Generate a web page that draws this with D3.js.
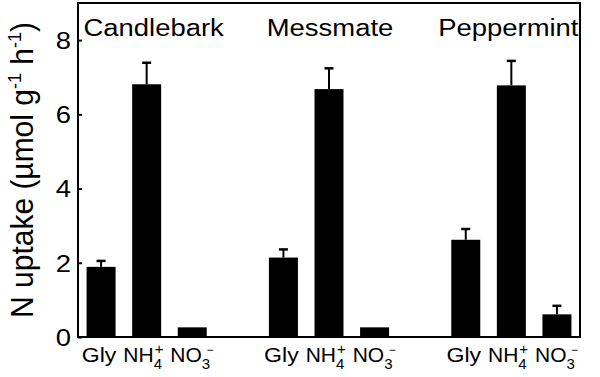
<!DOCTYPE html>
<html>
<head>
<meta charset="utf-8">
<script src="https://cdn.jsdelivr.net/npm/d3@7"></script>
<style>
  body { margin: 0; background: #fff; }
  svg text { font-family: "Liberation Sans", Arial, Helvetica, sans-serif; fill: #000; }
</style>
</head>
<body>
<svg id="chart" width="600" height="377"></svg>
<script>
// data
const species = ["Candlebark", "Messmate", "Peppermint"];
const nutrients = ["Gly", "NH4", "NO3"];
const candlebark = [1.89, 6.81, 0.26];
const messmate = [2.14, 6.68, 0.26];
const peppermint = [2.62, 6.78, 0.61];
const candlebarkErr = [0.16, 0.58, 0];
const messmateErr = [0.22, 0.56, 0];
const peppermintErr = [0.29, 0.66, 0.23];
const yTicks = [0, 2, 4, 6, 8];
// label pieces: base text, subscript, superscript
const nutrientBase = ["Gly", "NH", "NO"];
const nutrientSub = ["", "4", "3"];
const nutrientSup = ["", "+", "\u2212"];

const values = [candlebark, messmate, peppermint];
const errors = [candlebarkErr, messmateErr, peppermintErr];
const rows = [];
species.forEach((s, i) => {
  nutrients.forEach((n, j) => {
    rows.push({ species: s, nutrient: n, j: j, value: values[i][j], err: errors[i][j] });
  });
});

const mLeft = 78, mRight = 580, mTop = 3, mBottom = 337;
const sx = 1.12; // the figure's type is a bit wider than tall

const svg = d3.select("#chart");

const x0 = d3.scaleBand()
  .domain(species)
  .range([mLeft, mRight])
  .paddingInner(0.341)
  .paddingOuter(0.047);

const x1 = d3.scaleBand()
  .domain(nutrients)
  .range([0, x0.bandwidth()])
  .paddingInner(0.364);

const y = d3.scaleLinear()
  .domain([0, 9])
  .range([mBottom, mTop]);

// frame
svg.append("rect")
  .attr("x", mLeft).attr("y", mTop)
  .attr("width", mRight - mLeft).attr("height", mBottom - mTop)
  .attr("fill", "none").attr("stroke", "#000").attr("stroke-width", 2);

// y axis, ticks pointing inwards
const yAxis = svg.append("g")
  .attr("transform", "translate(" + mLeft + ",0)")
  .call(d3.axisRight(y).tickValues(yTicks).tickSize(4).tickFormat(""));
yAxis.select(".domain").remove();
yAxis.selectAll("line").attr("stroke", "#000").attr("stroke-width", 2);

svg.append("g").selectAll("text")
  .data(yTicks)
  .enter()
  .append("text")
  .attr("transform", d => "translate(71," + y(d) + ") scale(" + sx + ",1)")
  .attr("text-anchor", "end")
  .attr("dy", "0.36em")
  .style("font-size", "24.5px")
  .text(d => d);

// bars
svg.append("g").selectAll("rect")
  .data(rows)
  .enter()
  .append("rect")
  .attr("x", d => x0(d.species) + x1(d.nutrient))
  .attr("y", d => y(d.value))
  .attr("width", x1.bandwidth())
  .attr("height", d => y(0) - y(d.value))
  .attr("fill", "#000");

// error bars (upper only)
const errG = svg.append("g").selectAll("g")
  .data(rows.filter(d => d.err > 0))
  .enter()
  .append("g");
errG.append("line")
  .attr("x1", d => x0(d.species) + x1(d.nutrient) + x1.bandwidth() / 2)
  .attr("x2", d => x0(d.species) + x1(d.nutrient) + x1.bandwidth() / 2)
  .attr("y1", d => y(d.value))
  .attr("y2", d => y(d.value + d.err))
  .attr("stroke", "#000").attr("stroke-width", 2);
errG.append("line")
  .attr("x1", d => x0(d.species) + x1(d.nutrient) + x1.bandwidth() / 2 - 4.5)
  .attr("x2", d => x0(d.species) + x1(d.nutrient) + x1.bandwidth() / 2 + 4.5)
  .attr("y1", d => y(d.value + d.err))
  .attr("y2", d => y(d.value + d.err))
  .attr("stroke", "#000").attr("stroke-width", 2.5);

// species titles
svg.append("g").selectAll("text")
  .data(species)
  .enter()
  .append("text")
  .attr("transform", (d, i) => "translate(" + (x0(d) + x0.bandwidth() / 2 + [7, 1, -3][i]) + ",36) scale(" + sx + ",1)")
  .attr("text-anchor", "middle")
  .style("font-size", "24.5px")
  .text(d => d);

// nutrient labels under each bar
rows.forEach(d => {
  const cx = x0(d.species) + x1(d.nutrient) + x1.bandwidth() / 2;
  const lsx = d.j === 0 ? 1.1 : 1.0;
  const t = svg.append("text")
    .style("font-size", "21px");
  t.append("tspan").text(nutrientBase[d.j]);
  let extra = 0;
  if (nutrientSub[d.j]) {
    const sub = t.append("tspan")
      .attr("dy", 7)
      .style("font-size", "15px")
      .text(nutrientSub[d.j]);
    const w = sub.node().getComputedTextLength();
    t.append("tspan")
      .attr("dx", d.j === 2 ? -w * 0.45 : -w + 1)
      .attr("dy", -15)
      .style("font-size", d.j === 2 ? "12px" : "15px")
      .text(nutrientSup[d.j]);
    extra = w;
  }
  const baseW = t.select("tspan").node().getComputedTextLength();
  const total = (baseW + extra) * lsx;
  const shift = d.j === 1 ? -4 : -2;
  t.attr("transform", "translate(" + (cx - total / 2 + shift) + ",362) scale(" + lsx + ",1)");
});

// y axis title
const yl = svg.append("text")
  .attr("transform", "translate(33,170) scale(1.07,1) rotate(-90)")
  .attr("text-anchor", "middle")
  .style("font-size", "30px");
yl.append("tspan").text("N uptake (\u00b5mol g");
yl.append("tspan").attr("dy", -11).style("font-size", "18px").text("-1");
yl.append("tspan").attr("dy", 11).text(" h");
yl.append("tspan").attr("dy", -11).style("font-size", "18px").text("-1");
yl.append("tspan").attr("dy", 11).text(")");
</script>
</body>
</html>
